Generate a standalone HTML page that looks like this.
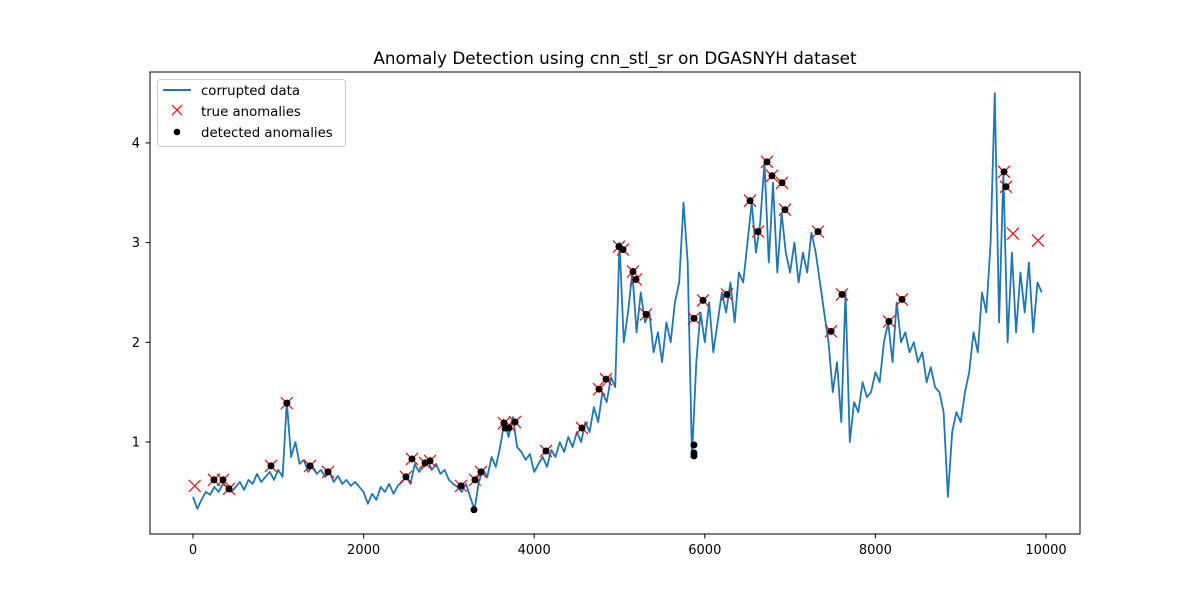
<!DOCTYPE html>
<html><head><meta charset="utf-8"><style>
body{margin:0;background:#fff;font-family:"DejaVu Sans","Liberation Sans",sans-serif;}
svg text{font-family:"DejaVu Sans","Liberation Sans",sans-serif;}
</style></head><body>
<svg id="chart" width="1200" height="600" xmlns="http://www.w3.org/2000/svg">
<rect width="1200" height="600" fill="#fff"/>
<text x="615" y="64" text-anchor="middle" font-size="16.8">Anomaly Detection using cnn_stl_sr on DGASNYH dataset</text>
<g id="plot"></g>
<rect x="150" y="72" width="930" height="462" fill="none" stroke="#000" stroke-width="1"/>
<g id="axes"></g>
<g>
<rect x="157.5" y="79.5" width="188" height="67" rx="3" fill="#fff" fill-opacity="0.8" stroke="#ccc"/>
<line x1="163" y1="90" x2="191" y2="90" stroke="#1f77b4" stroke-width="2"/>
<text x="201" y="95" font-size="13.3">corrupted data</text>
<path d="M172 105 L182 115 M182 105 L172 115" stroke="red" stroke-width="1.2"/>
<text x="201" y="116" font-size="13.3">true anomalies</text>
<circle cx="177" cy="132" r="3.3" fill="#000"/>
<text x="201" y="137" font-size="13.3">detected anomalies</text>
</g>
</svg>
<script>
const seriesStep = 50;
const seriesValues = [0.45,0.33,0.42,0.5,0.47,0.55,0.5,0.58,0.55,0.5,
0.55,0.6,0.52,0.62,0.58,0.68,0.6,0.65,0.7,0.62,
0.72,0.65,1.4,0.85,1.0,0.78,0.82,0.7,0.76,0.68,
0.72,0.65,0.7,0.6,0.66,0.58,0.62,0.56,0.6,0.55,
0.5,0.38,0.48,0.42,0.55,0.5,0.58,0.48,0.56,0.6,
0.65,0.58,0.78,0.7,0.75,0.82,0.72,0.78,0.68,0.72,
0.62,0.58,0.55,0.5,0.58,0.45,0.32,0.6,0.72,0.65,
0.85,0.75,0.95,1.2,1.05,1.25,0.95,0.9,0.82,0.88,
0.7,0.78,0.85,0.75,0.92,0.85,1.0,0.9,1.05,0.95,
1.1,1.0,1.2,1.1,1.35,1.2,1.5,1.4,1.65,1.55,
3.0,2.0,2.3,2.7,2.1,2.5,2.2,2.3,1.9,2.1,
1.8,2.2,2.0,2.4,2.6,3.4,2.8,0.85,1.8,2.3,
2.0,2.4,1.9,2.2,2.5,2.3,2.6,2.2,2.7,2.6,
3.0,3.4,2.9,3.2,3.8,2.8,3.6,2.7,3.3,2.9,
2.7,3.0,2.6,2.9,2.7,3.1,2.9,2.6,2.3,2.0,
1.5,1.8,1.2,2.5,1.0,1.4,1.3,1.6,1.45,1.5,
1.7,1.6,2.0,2.2,1.8,2.4,2.0,2.1,1.9,2.0,
1.8,1.9,1.6,1.75,1.55,1.5,1.3,0.45,1.1,1.3,
1.2,1.5,1.7,2.1,1.9,2.5,2.3,3.0,4.5,2.2,
3.7,2.0,2.9,2.1,2.7,2.3,2.8,2.1,2.6,2.5];
const trueX = [20,246,352,422,914,1100,1372,1583,2497,2567,2720,2778,3142,3306,3376,3646,3704,3775,4138,4560,4760,4842,4994,5041,5158,5193,5311,5873,5979,6260,6530,6624,6729,6788,6905,6940,7327,7480,7608,8159,8312,9508,9531,9613,9906];
const trueY = [0.56,0.62,0.62,0.53,0.76,1.39,0.76,0.70,0.65,0.83,0.79,0.81,0.56,0.62,0.70,1.19,1.17,1.2,0.91,1.14,1.53,1.63,2.96,2.93,2.71,2.63,2.28,2.24,2.42,2.48,3.42,3.11,3.81,3.67,3.6,3.33,3.11,2.11,2.48,2.21,2.43,3.71,3.56,3.09,3.02];
const detX = [246,352,422,914,1100,1372,1583,2497,2567,2720,2778,3142,3294,3306,3376,3646,3660,3704,3775,4138,4560,4760,4842,4994,5041,5158,5193,5311,5873,5873,5873,5873,5979,6260,6530,6624,6729,6788,6905,6940,7327,7480,7608,8159,8312,9508,9531];
const detY = [0.62,0.62,0.53,0.76,1.39,0.76,0.70,0.65,0.83,0.79,0.81,0.56,0.32,0.62,0.70,1.19,1.14,1.14,1.2,0.91,1.14,1.53,1.63,2.96,2.93,2.71,2.63,2.28,2.24,0.97,0.89,0.86,2.42,2.48,3.42,3.11,3.81,3.67,3.6,3.33,3.11,2.11,2.48,2.21,2.43,3.71,3.56];
const xTicks = [0,2000,4000,6000,8000,10000];
const yTicks = [1,2,3,4];

const NS="http://www.w3.org/2000/svg";
const xs = v => 193 + v*0.0853;
const ys = v => 442 - (v-1)*99.7;
const plot = document.getElementById('plot');
const axes = document.getElementById('axes');
function mk(tag, attrs, parent){const e=document.createElementNS(NS,tag);for(const k in attrs)e.setAttribute(k,attrs[k]);parent.appendChild(e);return e;}

let d = seriesValues.map((v,i)=>(i?'L':'M')+xs(i*seriesStep).toFixed(1)+' '+ys(v).toFixed(1)).join(' ');
const line = mk('path',{d:d,fill:'none',stroke:'#1f77b4','stroke-width':1.8,'stroke-linejoin':'round'},plot);



trueX.forEach((x,i)=>{
  const cx=xs(x), cy=ys(trueY[i]);
  const p = mk('path',{d:`M${cx-6} ${cy-6} L${cx+6} ${cy+6} M${cx+6} ${cy-6} L${cx-6} ${cy+6}`,stroke:'red','stroke-width':1.2},plot);
  
  
});
detX.forEach((x,i)=>{
  const c = mk('circle',{cx:xs(x),cy:ys(detY[i]),r:3.5,fill:'#000'},plot);
  
  
});
xTicks.forEach(t=>{
  const x=xs(t);
  const l = mk('line',{x1:x,y1:534,x2:x,y2:538.5,stroke:'#000'},axes);
  
  
  const tx = mk('text',{x:x,y:554,'text-anchor':'middle','font-size':13},axes);
  tx.textContent=t;
  
  
});
yTicks.forEach(t=>{
  const y=ys(t);
  const l = mk('line',{x1:145.5,y1:y,x2:150,y2:y,stroke:'#000'},axes);
  
  
  const tx = mk('text',{x:140,y:y+4.5,'text-anchor':'end','font-size':13},axes);
  tx.textContent=t;
  
  
});
</script>
</body></html>
